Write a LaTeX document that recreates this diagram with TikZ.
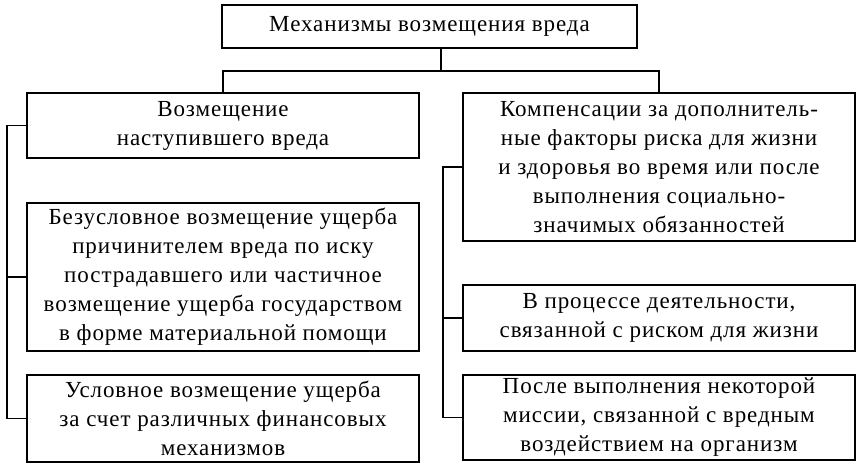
\documentclass[tikz,border=0pt]{standalone}
\usepackage{fontspec}
\setmainfont{Liberation Serif}[LetterSpace=4]
\usetikzlibrary{calc}

\tikzset{
    blk/.style={draw, line width=1.2pt, align=center, inner sep=0pt,
        font=\fontsize{23}{29}\selectfont},
    wire/.style={line width=1.2pt}
}

\begin{document}
\begin{tikzpicture}[x=1pt,y=-1pt]
        \useasboundingbox (0,0) rectangle (858,466);
        % boxes, given as corners in picture pixels
        \node[blk, minimum width=415, minimum height=43] (top) at (429.5,26.5){Механизмы возмещения вреда};
        \node[blk, minimum width=392, minimum height=65] (l1) at (223,125.5){Возмещение\\наступившего вреда};
        \node[blk, minimum width=392, minimum height=148] (l2) at (223,277){Безусловное возмещение ущерба\\причинителем вреда по иску\\пострадавшего или частичное\\возмещение ущерба государством\\в форме материальной помощи};
        \node[blk, minimum width=392, minimum height=87] (l3) at (223,418.5){Условное возмещение ущерба\\за счет различных финансовых\\механизмов};
        \node[blk, minimum width=392, minimum height=148] (r1) at (659,167){Компенсации за дополнитель-\\ные факторы риска для жизни\\и здоровья во время или после\\выполнения социально-\\значимых обязанностей};
        \node[blk, minimum width=392, minimum height=66] (r2) at (659,318){В процессе деятельности,\\связанной с риском для жизни};
        \node[blk, minimum width=392, minimum height=85] (r3) at (659,417.5){После выполнения некоторой\\миссии, связанной с вредным\\воздействием на организм};

        \coordinate (bus) at (441,71);
        \draw[wire] (top.south -| bus) -- (bus);
        \draw[wire] (l1.north) |- (bus) -| (r1.north);

        \coordinate (ls) at (7,0); %left spine
        \coordinate (rs) at (443,0); %right spine
        \draw[wire] (l1.west) -- (l1.west -| ls) -- (l3.west -| ls) -- (l3.west);
        \draw[wire] (l2.west) -- (l2.west -| ls);
        \draw[wire] (r1.west) -- (r1.west -| rs) -- (r3.west -| rs) -- (r3.west);
        \draw[wire] (r2.west) -- (r2.west -| rs);
    \end{tikzpicture}
\end{document}
